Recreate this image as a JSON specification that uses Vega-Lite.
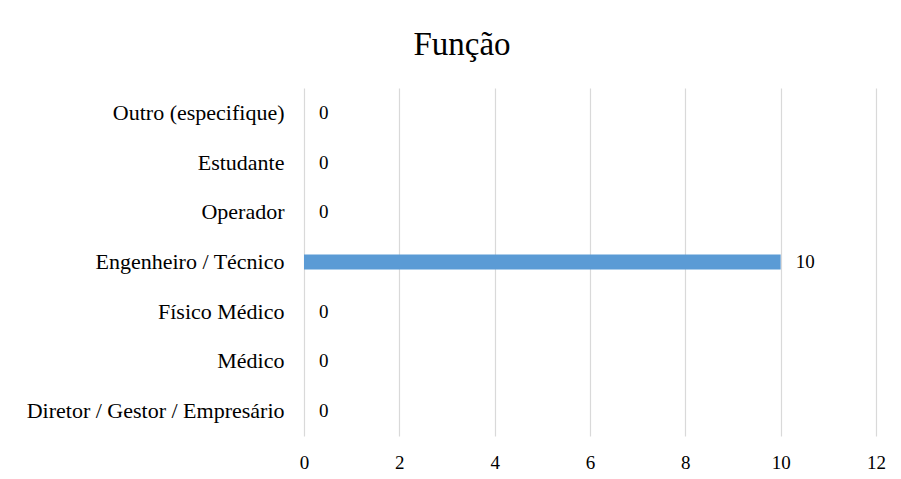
{
  "$schema": "https://vega.github.io/schema/vega-lite/v6.json",
  "autosize": "none",
  "width": 572,
  "height": 348,
  "padding": {"left": 304, "top": 88, "right": 25, "bottom": 43},
  "background": "white",
  "title": {"text": "Função", "font": "Liberation Serif", "fontSize": 33, "fontWeight": "normal", "color": "#000000", "anchor": "middle", "offset": 26, "dx": -128, "frame": "group"},
  "data": {"values": [
    {"funcao": "Outro (especifique)", "n": 0},
    {"funcao": "Estudante", "n": 0},
    {"funcao": "Operador", "n": 0},
    {"funcao": "Engenheiro / Técnico", "n": 10},
    {"funcao": "Físico Médico", "n": 0},
    {"funcao": "Médico", "n": 0},
    {"funcao": "Diretor / Gestor / Empresário", "n": 0}
  ]},
  "encoding": {
    "y": {"field": "funcao", "type": "nominal", "sort": null,
      "scale": {"paddingInner": 0.7, "paddingOuter": 0.35},
      "axis": {"title": null, "domain": false, "ticks": false, "labelPadding": 20, "labelFont": "Liberation Serif", "labelFontSize": 22, "labelColor": "#000000", "labelLimit": 400}},
    "x": {"field": "n", "type": "quantitative",
      "scale": {"domain": [0, 12]},
      "axis": {"title": null, "values": [0, 2, 4, 6, 8, 10, 12], "domain": false, "ticks": false, "labelFlush": false, "labelPadding": 17, "labelFont": "Liberation Serif", "labelFontSize": 19, "labelColor": "#000000", "gridColor": "#d9d9d9", "gridWidth": 1.2}}
  },
  "layer": [
    {"mark": {"type": "bar", "color": "#5B9BD5"}},
    {"mark": {"type": "text", "align": "left", "dx": 15, "font": "Liberation Serif", "fontSize": 19, "color": "#000000"},
     "encoding": {"text": {"field": "n", "type": "quantitative"}}}
  ],
  "config": {"view": {"stroke": null}}
}
